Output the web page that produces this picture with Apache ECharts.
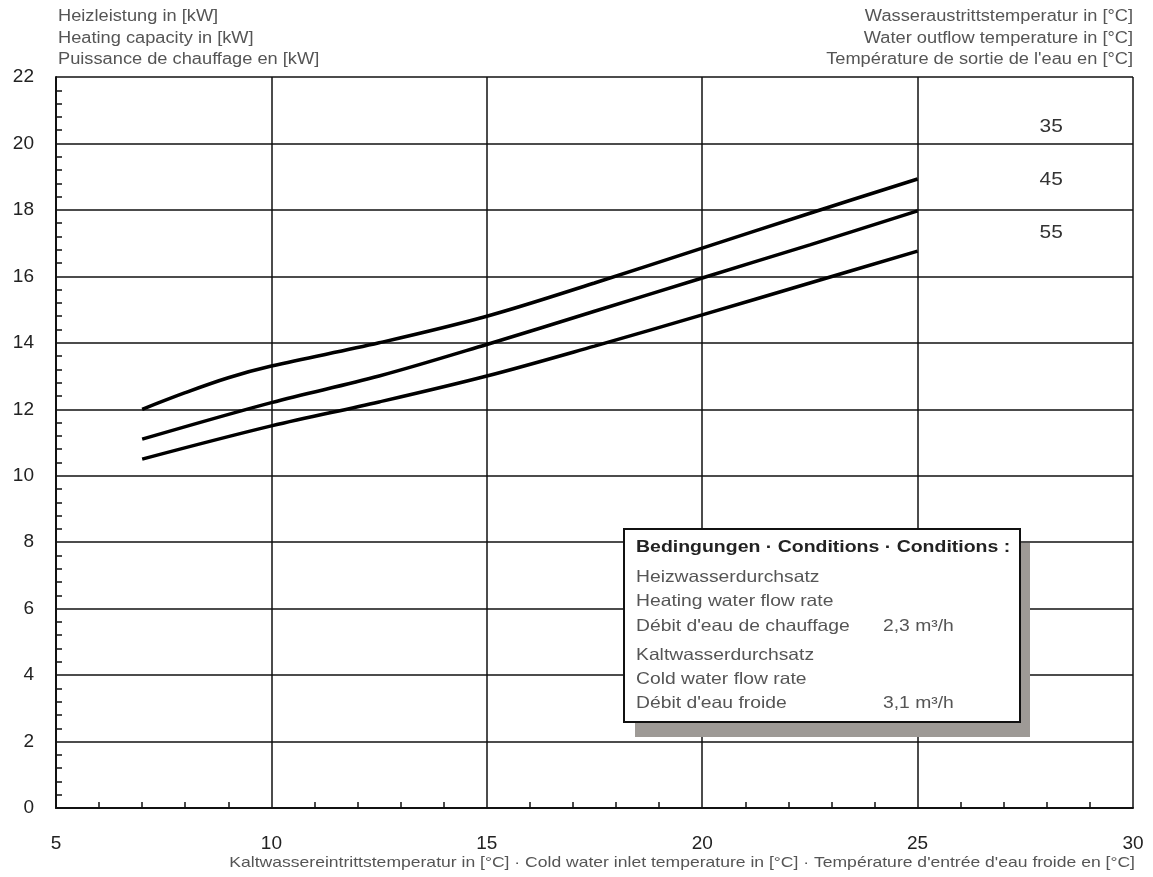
<!DOCTYPE html>
<html><head><meta charset="utf-8">
<script src="https://cdn.jsdelivr.net/npm/echarts@6/dist/echarts.min.js"></script>
<style>html,body{margin:0;padding:0;background:#fff}#c{width:1153px;height:877px}</style>
</head><body><div id="c"></div>
<script>
const xTicks = [5, 10, 15, 20, 25, 30];
const yTicks = [0, 2, 4, 6, 8, 10, 12, 14, 16, 18, 20, 22];
const seriesNames = ['35', '45', '55'];
const xValues35 = [7, 8, 9, 10, 12.5, 15, 17.5, 20, 22.5, 25];
const yValues35 = [12.0, 12.5, 12.95, 13.3, 14.0, 14.8, 15.8, 16.85, 17.9, 18.93];
const xValues45 = [7, 10, 12.5, 15, 17.5, 20, 22.5, 25];
const yValues45 = [11.1, 12.2, 13.0, 13.95, 14.95, 15.95, 16.95, 17.97];
const xValues55 = [7, 10, 12.5, 15, 17.5, 20, 22.5, 25];
const yValues55 = [10.5, 11.5, 12.22, 13.0, 13.9, 14.84, 15.8, 16.76];
const labelAnchors = [[28.1, 20.5], [28.1, 18.9], [28.1, 17.3]];
const yTitleLines = ['Heizleistung in [kW]', 'Heating capacity in [kW]', 'Puissance de chauffage en [kW]'];
const seriesTitleLines = ['Wasseraustrittstemperatur in [°C]', 'Water outflow temperature in [°C]', 'Température de sortie de l\'eau en [°C]'];
const xTitle = 'Kaltwassereintrittstemperatur in [°C] · Cold water inlet temperature in [°C] · Température d\'entrée d\'eau froide en [°C]';
const boxTitle = 'Bedingungen · Conditions · Conditions :';
const boxLines1 = ['Heizwasserdurchsatz', 'Heating water flow rate', 'Débit d\'eau de chauffage'];
const boxValue1 = '2,3 m³/h';
const boxLines2 = ['Kaltwasserdurchsatz', 'Cold water flow rate', 'Débit d\'eau froide'];
const boxValue2 = '3,1 m³/h';

const FONT = '"Liberation Sans", Arial, sans-serif';
const chart = echarts.init(document.getElementById('c'));
const zip = (xs, ys) => xs.map((x, i) => [x, ys[i]]);
const lineData = [zip(xValues35, yValues35), zip(xValues45, yValues45), zip(xValues55, yValues55)];

const option = {
  animation: false,
  backgroundColor: '#fff',
  grid: { left: 56, right: 20, top: 77, bottom: 69, containLabel: false },
  xAxis: {
    type: 'value', min: xTicks[0], max: xTicks[xTicks.length - 1], interval: 5,
    axisLine: { show: true, lineStyle: { color: '#111', width: 2 } },
    axisTick: { show: false, inside: true },
    minorTick: { show: true, splitNumber: 5, length: 6, lineStyle: { color: '#111', width: 1.5 } },
    splitLine: { show: true, lineStyle: { color: '#111', width: 1.5 } },
    axisLabel: { color: '#222', fontSize: 19, fontFamily: FONT, margin: 26, showMinLabel: true, showMaxLabel: true },
  },
  yAxis: {
    type: 'value', min: yTicks[0], max: yTicks[yTicks.length - 1], interval: 2,
    axisLine: { show: true, lineStyle: { color: '#111', width: 2 } },
    axisTick: { show: false, inside: true },
    minorTick: { show: true, splitNumber: 5, length: 6, lineStyle: { color: '#111', width: 1.5 } },
    splitLine: { show: true, lineStyle: { color: '#111', width: 1.5 } },
    axisLabel: { color: '#222', fontSize: 19, fontFamily: FONT, margin: 22 },
  },
  series: seriesNames.map((n, i) => ({
    name: n, type: 'line', smooth: 0.35, showSymbol: false,
    data: lineData[i],
    lineStyle: { color: '#000', width: 3.5 },
    z: 5,
  })),
};
chart.setOption(option);

const gfx = [];
const txt = (x, y, text, style, sx) => gfx.push({
  type: 'text', x, y, z: 100, scaleX: sx || 1, originX: 0, originY: 0,
  style: Object.assign({ text, fontFamily: FONT, fill: '#555', fontSize: 13, verticalAlign: 'middle' }, style)
});
yTitleLines.forEach((t, i) => txt(58, 17 + i * 21.5, t, { align: 'left', fontSize: 16 }, 1.14));
seriesTitleLines.forEach((t, i) => txt(1133, 17 + i * 21.5, t, { align: 'right', fontSize: 16 }, 1.14));
txt(1135, 863, xTitle, { align: 'right', fontSize: 15 }, 1.17);

seriesNames.forEach((n, i) => {
  const p = chart.convertToPixel({ gridIndex: 0 }, labelAnchors[i]);
  txt(p[0], p[1], n, { align: 'center', fontSize: 19, fill: '#333' }, 1.1);
});

// condition box
gfx.push({ type: 'rect', z: 90, shape: { x: 635, y: 543, width: 395, height: 194 }, style: { fill: '#9e9a96' } });
gfx.push({ type: 'rect', z: 91, shape: { x: 624, y: 529, width: 396, height: 193 }, style: { fill: '#fff', stroke: '#111', lineWidth: 2 } });
txt(636, 547, boxTitle, { align: 'left', fontSize: 16.5, fontWeight: 'bold', fill: '#222' }, 1.18);
const rowY1 = [577, 601, 626], rowY2 = [655, 679, 703];
boxLines1.forEach((t, i) => txt(636, rowY1[i], t, { align: 'left', fontSize: 16.5, fill: '#555' }, 1.17));
txt(883, rowY1[2], boxValue1, { align: 'left', fontSize: 16.5, fill: '#555' }, 1.17);
boxLines2.forEach((t, i) => txt(636, rowY2[i], t, { align: 'left', fontSize: 16.5, fill: '#555' }, 1.17));
txt(883, rowY2[2], boxValue2, { align: 'left', fontSize: 16.5, fill: '#555' }, 1.17);

chart.setOption({ graphic: gfx });
</script></body></html>
